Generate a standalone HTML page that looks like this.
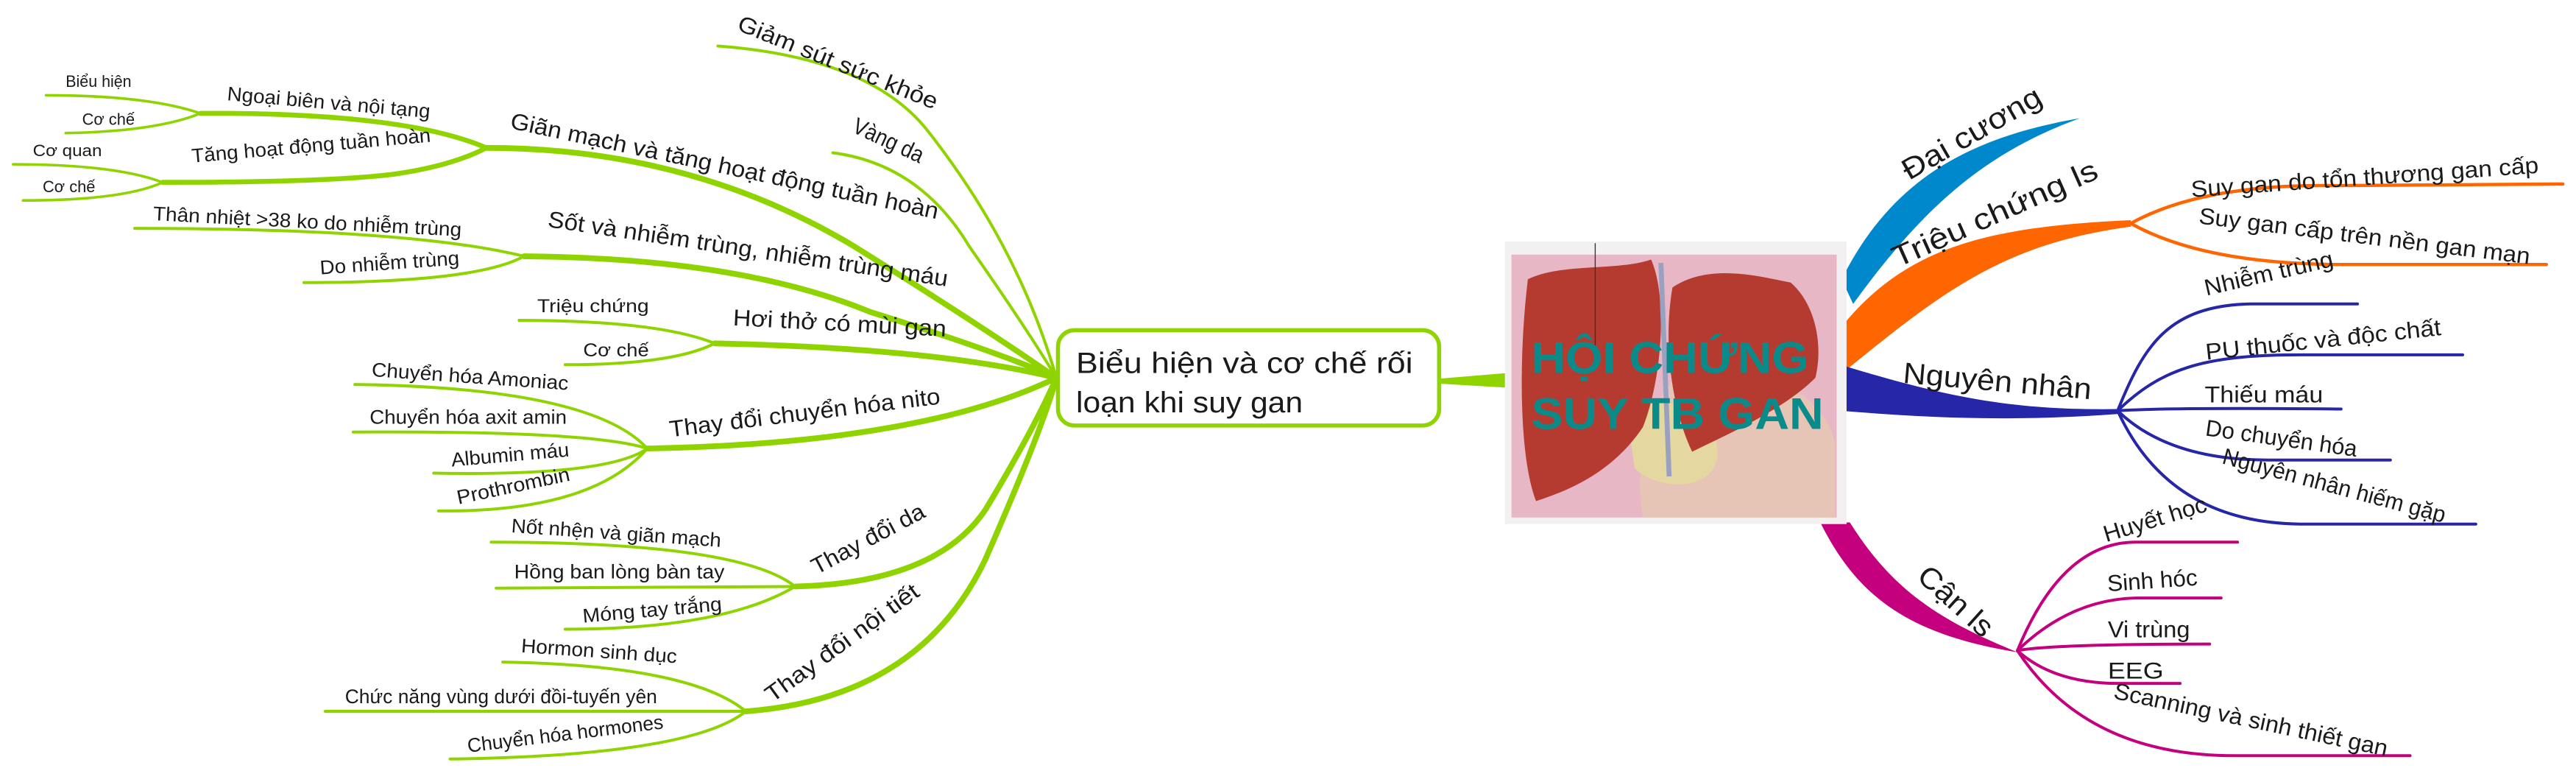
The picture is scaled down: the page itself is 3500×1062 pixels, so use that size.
<!DOCTYPE html>
<html><head><meta charset="utf-8"><style>
html,body{margin:0;padding:0;background:#fff;}
svg{display:block;}
text{font-family:"Liberation Sans",Arial,sans-serif;fill:#1a1a1a;}
</style></head><body>
<svg width="3500" height="1062" viewBox="0 0 1568 476" preserveAspectRatio="none" xmlns="http://www.w3.org/2000/svg">
<rect width="1568" height="476" fill="#fff"/>
<g fill="none" stroke="#8fd400" stroke-linecap="round">
<path d="M437,28 Q530,35 565,80 Q620,150 643,230" stroke-width="1.8"/>
<path d="M507,93 Q560,100 590,150 Q625,200 643,230" stroke-width="1.8"/>
<path d="M296,90 Q420,90 520,150 Q600,200 643,230" stroke-width="3.5"/>
<path d="M319,156 Q450,157 530,190 Q610,215 643,230" stroke-width="3.5"/>
<path d="M435,209 Q570,212 643,230" stroke-width="3.5"/>
<path d="M394,273 Q560,270 643,230" stroke-width="3.5"/>
<path d="M484,357 Q570,355 600,310 Q630,260 643,230" stroke-width="3.5"/>
<path d="M454,433 Q560,425 600,340 Q635,260 643,230" stroke-width="3.5"/>
<path d="M122,69 L140,69 Q250,70 296,90" stroke-width="3"/>
<path d="M99,111 Q200,111 240,106 Q275,101 296,90" stroke-width="3"/>
<path d="M28,58 Q90,58 122,69" stroke-width="1.6"/>
<path d="M40,81 Q95,80 122,69" stroke-width="1.6"/>
<path d="M8,100 Q70,100 99,111" stroke-width="1.6"/>
<path d="M14,122 Q75,122 99,111" stroke-width="1.6"/>
<path d="M82,139 Q250,139 319,156" stroke-width="1.8"/>
<path d="M185,172 Q290,172 319,156" stroke-width="1.8"/>
<path d="M316,195 Q400,195 435,209" stroke-width="1.8"/>
<path d="M344,222 Q410,222 435,209" stroke-width="1.8"/>
<path d="M216,234 Q360,236 394,273" stroke-width="1.8"/>
<path d="M215,263 Q360,262 394,273" stroke-width="1.8"/>
<path d="M264,288 Q370,290 394,273" stroke-width="1.8"/>
<path d="M267,311 Q360,312 394,273" stroke-width="1.8"/>
<path d="M299,330 Q450,330 484,357" stroke-width="1.8"/>
<path d="M302,358 L484,357" stroke-width="1.8"/>
<path d="M344,383 Q440,383 484,357" stroke-width="1.8"/>
<path d="M306,403 Q420,405 454,433" stroke-width="1.8"/>
<path d="M198,433 L454,433" stroke-width="1.8"/>
<path d="M274,462 Q420,460 454,433" stroke-width="1.8"/>
</g>
<rect x="644" y="201" width="232" height="58" rx="10" fill="#fff" stroke="#8fd400" stroke-width="2.5"/>
<text x="655" y="227" font-size="18" textLength="205" lengthAdjust="spacingAndGlyphs">Biểu hiện và cơ chế rối</text>
<text x="655" y="251" font-size="18" textLength="138" lengthAdjust="spacingAndGlyphs">loạn khi suy gan</text>
<polygon points="876,230.5 918,227 918,236 876,233.5" fill="#8fd400"/>

<text x="448" y="18" font-size="14" transform="rotate(22 448 18)" textLength="130" lengthAdjust="spacingAndGlyphs">Giảm sút sức khỏe</text>
<text x="518" y="80" font-size="14" transform="rotate(25 518 80)" textLength="46" lengthAdjust="spacingAndGlyphs">Vàng da</text>
<text x="310" y="78" font-size="14" transform="rotate(12 310 78)" textLength="266" lengthAdjust="spacingAndGlyphs">Giãn mạch và tăng hoạt động tuần hoàn</text>
<text x="138" y="61" font-size="12" transform="rotate(5 138 61)" textLength="124" lengthAdjust="spacingAndGlyphs">Ngoại biên và nội tạng</text>
<text x="40" y="53" font-size="10" textLength="40" lengthAdjust="spacingAndGlyphs">Biểu hiện</text>
<text x="50" y="76" font-size="10" textLength="32" lengthAdjust="spacingAndGlyphs">Cơ chế</text>
<text x="117" y="99" font-size="12" transform="rotate(-5 117 99)" textLength="146" lengthAdjust="spacingAndGlyphs">Tăng hoạt động tuần hoàn</text>
<text x="20" y="95" font-size="10" textLength="42" lengthAdjust="spacingAndGlyphs">Cơ quan</text>
<text x="26" y="117" font-size="10" textLength="32" lengthAdjust="spacingAndGlyphs">Cơ chế</text>
<text x="333" y="138" font-size="14" transform="rotate(8.5 333 138)" textLength="246" lengthAdjust="spacingAndGlyphs">Sốt và nhiễm trùng, nhiễm trùng máu</text>
<text x="93" y="134" font-size="12" transform="rotate(3 93 134)" textLength="188" lengthAdjust="spacingAndGlyphs">Thân nhiệt &gt;38 ko do nhiễm trùng</text>
<text x="195" y="167" font-size="12" transform="rotate(-4 195 167)" textLength="85" lengthAdjust="spacingAndGlyphs">Do nhiễm trùng</text>
<text x="446" y="198" font-size="14" transform="rotate(3 446 198)" textLength="130" lengthAdjust="spacingAndGlyphs">Hơi thở có mùi gan</text>
<text x="327" y="190" font-size="11" textLength="68" lengthAdjust="spacingAndGlyphs">Triệu chứng</text>
<text x="355" y="217" font-size="11" textLength="40" lengthAdjust="spacingAndGlyphs">Cơ chế</text>
<text x="408" y="266" font-size="14" transform="rotate(-7 408 266)" textLength="166" lengthAdjust="spacingAndGlyphs">Thay đổi chuyển hóa nito</text>
<text x="226" y="229" font-size="12" transform="rotate(4 226 229)" textLength="120" lengthAdjust="spacingAndGlyphs">Chuyển hóa Amoniac</text>
<text x="225" y="258" font-size="12" textLength="120" lengthAdjust="spacingAndGlyphs">Chuyển hóa axit amin</text>
<text x="275" y="284" font-size="12" transform="rotate(-5 275 284)" textLength="72" lengthAdjust="spacingAndGlyphs">Albumin máu</text>
<text x="279" y="307" font-size="12" transform="rotate(-12 279 307)" textLength="70" lengthAdjust="spacingAndGlyphs">Prothrombin</text>
<text x="497" y="350" font-size="14" transform="rotate(-28 497 350)" textLength="76" lengthAdjust="spacingAndGlyphs">Thay đổi da</text>
<text x="311" y="324" font-size="12" transform="rotate(4 311 324)" textLength="128" lengthAdjust="spacingAndGlyphs">Nốt nhện và giãn mạch</text>
<text x="313" y="352" font-size="12" textLength="128" lengthAdjust="spacingAndGlyphs">Hồng ban lòng bàn tay</text>
<text x="355" y="379" font-size="12" transform="rotate(-5 355 379)" textLength="85" lengthAdjust="spacingAndGlyphs">Móng tay trắng</text>
<text x="470" y="428" font-size="14" transform="rotate(-36 470 428)" textLength="112" lengthAdjust="spacingAndGlyphs">Thay đổi nội tiết</text>
<text x="317" y="397" font-size="12" transform="rotate(4 317 397)" textLength="95" lengthAdjust="spacingAndGlyphs">Hormon sinh dục</text>
<text x="210" y="428" font-size="12" textLength="190" lengthAdjust="spacingAndGlyphs">Chức năng vùng dưới đồi-tuyến yên</text>
<text x="285" y="458" font-size="12" transform="rotate(-7 285 458)" textLength="120" lengthAdjust="spacingAndGlyphs">Chuyển hóa hormones</text>

<path d="M1121,170 C1150,112 1195,84 1266,72 C1205,94 1168,130 1128,185 Z" fill="#0088cc"/>
<path d="M1120,200 C1160,150 1210,138 1297,134 L1297,138 C1220,148 1182,178 1124,225 Z" fill="#ff6600"/>
<path d="M1120,222 C1180,240 1220,250 1289,249 L1289,252 C1220,257 1170,254 1120,250 Z" fill="#2626a8"/>
<path d="M1108,318 C1130,362 1160,386 1228,397 C1176,376 1150,356 1126,318 Z" fill="#c4007e"/>
<g fill="none" stroke-linecap="round">
<path d="M1297,136 Q1340,112 1420,113 L1560,112" stroke="#ff6600" stroke-width="2"/>
<path d="M1297,136 Q1340,160 1420,161 L1550,161" stroke="#ff6600" stroke-width="2"/>
<g stroke="#2626a8" stroke-width="1.8">
<path d="M1289,250 C1305,210 1320,186 1370,185 L1435,185"/>
<path d="M1289,250 C1315,225 1340,216 1400,216 L1499,216"/>
<path d="M1289,250 Q1320,248 1425,249"/>
<path d="M1289,250 Q1320,280 1380,280 L1455,280"/>
<path d="M1289,250 Q1320,318 1400,319 L1507,319"/>
</g>
<g stroke="#c4007e" stroke-width="1.8">
<path d="M1228,396 Q1255,330 1300,330 L1362,330"/>
<path d="M1228,396 Q1260,365 1300,364 L1352,364"/>
<path d="M1228,396 Q1250,392 1345,392"/>
<path d="M1228,396 Q1250,416 1290,416 L1327,416"/>
<path d="M1228,396 Q1270,460 1360,460 L1467,460"/>
</g>
</g>
<text x="1162" y="110" font-size="18" transform="rotate(-30 1162 110)" textLength="95" lengthAdjust="spacingAndGlyphs">Đại cương</text>
<text x="1155" y="163" font-size="18" transform="rotate(-24 1155 163)" textLength="135" lengthAdjust="spacingAndGlyphs">Triệu chứng ls</text>
<text x="1334" y="120" font-size="14" transform="rotate(-4 1334 120)" textLength="212" lengthAdjust="spacingAndGlyphs">Suy gan do tổn thương gan cấp</text>
<text x="1338" y="136" font-size="14" transform="rotate(7 1338 136)" textLength="203" lengthAdjust="spacingAndGlyphs">Suy gan cấp trên nền gan mạn</text>
<text x="1158" y="233" font-size="18" transform="rotate(5 1158 233)" textLength="115" lengthAdjust="spacingAndGlyphs">Nguyên nhân</text>
<text x="1343" y="180" font-size="14" transform="rotate(-13 1343 180)" textLength="80" lengthAdjust="spacingAndGlyphs">Nhiễm trùng</text>
<text x="1343" y="219" font-size="14" transform="rotate(-6 1343 219)" textLength="144" lengthAdjust="spacingAndGlyphs">PU thuốc và độc chất</text>
<text x="1342" y="245" font-size="14" textLength="72" lengthAdjust="spacingAndGlyphs">Thiếu máu</text>
<text x="1342" y="265" font-size="14" transform="rotate(8 1342 265)" textLength="93" lengthAdjust="spacingAndGlyphs">Do chuyển hóa</text>
<text x="1352" y="282" font-size="14" transform="rotate(15 1352 282)" textLength="140" lengthAdjust="spacingAndGlyphs">Nguyên nhân hiếm gặp</text>
<text x="1166" y="352" font-size="18" transform="rotate(42 1166 352)" textLength="55" lengthAdjust="spacingAndGlyphs">Cận ls</text>
<text x="1282" y="330" font-size="14" transform="rotate(-17 1282 330)" textLength="65" lengthAdjust="spacingAndGlyphs">Huyết học</text>
<text x="1283" y="360" font-size="14" transform="rotate(-4 1283 360)" textLength="55" lengthAdjust="spacingAndGlyphs">Sinh hóc</text>
<text x="1283" y="388" font-size="14" textLength="50" lengthAdjust="spacingAndGlyphs">Vi trùng</text>
<text x="1283" y="413" font-size="14" textLength="34" lengthAdjust="spacingAndGlyphs">EEG</text>
<text x="1286" y="425" font-size="14" transform="rotate(12 1286 425)" textLength="170" lengthAdjust="spacingAndGlyphs">Scanning và sinh thiết gan</text>

<rect x="916" y="147" width="208" height="172" fill="#f2f0f0"/>
<rect x="920" y="155" width="198" height="160" fill="#e7b7c6"/>
<path d="M1020,230 C1060,215 1110,235 1117,270 L1117,315 L1000,315 C995,290 1000,250 1020,230 Z" fill="#e6c4b6"/>
<path d="M990,250 C1010,240 1040,245 1045,270 C1050,300 1010,300 995,285 Z" fill="#e4d8a0"/>
<path d="M930,170 C950,160 985,165 1005,158 C1015,180 1012,230 1000,260 C980,290 950,300 935,305 C925,280 924,220 930,170 Z" fill="#b53b30"/>
<path d="M1018,175 C1040,160 1070,168 1090,172 C1105,185 1110,210 1105,230 C1085,250 1050,265 1030,275 C1018,250 1012,210 1018,175 Z" fill="#b53b30"/>
<path d="M1011,160 L1016,290" stroke="#9aa0c0" stroke-width="3"/>
<line x1="971" y1="148" x2="971" y2="215" stroke="#333" stroke-width="0.6"/>
<text x="932" y="227" font-size="27" font-weight="bold" style="fill:#0b8a8a" textLength="169" lengthAdjust="spacingAndGlyphs">HỘI CHỨNG</text>
<text x="932" y="261" font-size="27" font-weight="bold" style="fill:#0b8a8a" textLength="178" lengthAdjust="spacingAndGlyphs">SUY TB GAN</text>
</svg>
</body></html>
